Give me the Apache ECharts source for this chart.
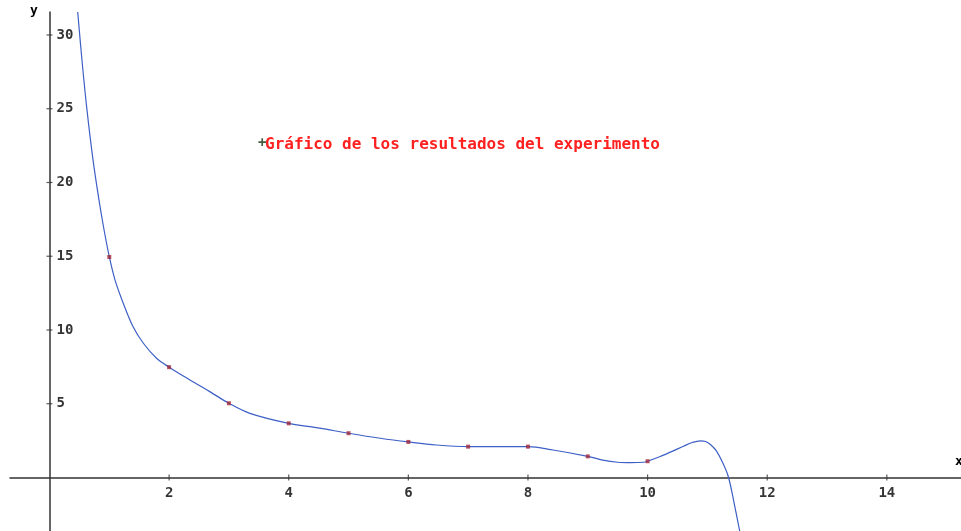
<!DOCTYPE html>
<html>
<head>
<meta charset="utf-8">
<script src="https://cdn.jsdelivr.net/npm/echarts@6/dist/echarts.min.js"></script>
<style>html,body{margin:0;padding:0;background:#fff;}#c{width:961px;height:531px;}</style>
</head>
<body>
<div id="c"></div>
<script>
// measured data points
const pointX = [1, 2, 3, 4, 5, 6, 7, 8, 9, 10];
const pointY = [14.95, 7.48, 5.03, 3.67, 3.0, 2.41, 2.09, 2.09, 1.43, 1.1];
// fitted curve
const curveX = [0.472, 0.543, 0.627, 0.728, 0.828, 0.913, 1.0, 1.095, 1.235, 1.40, 1.57, 1.79, 2.0, 2.35, 2.68, 3.0, 3.35, 4.0, 4.52, 5.0, 5.53, 6.0, 6.47, 7.0, 7.53, 8.0, 8.42, 9.0, 9.25, 9.5, 9.72, 9.93, 10.0, 10.2, 10.43, 10.6, 10.75, 10.88, 10.97, 11.06, 11.15, 11.25, 11.35, 11.45, 11.54];
const curveY = [31.56, 28.31, 24.92, 21.53, 18.81, 16.78, 14.97, 13.4, 11.8, 10.2, 9.1, 8.08, 7.48, 6.61, 5.82, 5.03, 4.35, 3.67, 3.34, 3.0, 2.66, 2.41, 2.2, 2.09, 2.09, 2.09, 1.86, 1.43, 1.18, 1.03, 1.0, 1.03, 1.1, 1.4, 1.8, 2.12, 2.37, 2.48, 2.44, 2.2, 1.8, 1.05, 0.05, -1.8, -3.63];
const xTicks = [2, 4, 6, 8, 10, 12, 14];
const yTicks = [5, 10, 15, 20, 25, 30];
const titleText = 'Gráfico de los resultados del experimento';

const X_MIN = -0.66, X_MAX = 15.24, Y_MIN = -3.63, Y_MAX = 31.56;
const axisColor = '#333';
const labelFont = { fontFamily: 'DejaVu Sans Mono', fontWeight: 'bold', fontSize: 14, color: '#000' };

const chart = echarts.init(document.getElementById('c'));
chart.setOption({
  animation: false,
  backgroundColor: '#fff',
  grid: { left: 10, right: 0, top: 12, bottom: 0, containLabel: false, outerBoundsMode: 'none' },
  xAxis: {
    type: 'value', min: X_MIN, max: X_MAX,
    axisLine: { show: true, onZero: true, lineStyle: { color: axisColor, width: 1.5 } },
    axisTick: { show: false }, axisLabel: { show: false }, splitLine: { show: false }
  },
  yAxis: {
    type: 'value', min: Y_MIN, max: Y_MAX,
    axisLine: { show: true, onZero: true, lineStyle: { color: axisColor, width: 1.5 } },
    axisTick: { show: false }, axisLabel: { show: false }, splitLine: { show: false }
  },
  series: [
    {
      // ticks + labels on the x axis
      type: 'scatter', data: xTicks.map(v => [v, 0]), symbol: 'rect', symbolSize: [1.2, 6],
      itemStyle: { color: axisColor }, silent: true, z: 1,
      label: Object.assign({ show: true, position: 'bottom', distance: 6, formatter: p => String(p.value[0]) }, labelFont)
    },
    {
      // ticks + labels on the y axis
      type: 'scatter', data: yTicks.map(v => [0, v]), symbol: 'rect', symbolSize: [6, 1.2],
      itemStyle: { color: axisColor }, silent: true, z: 1,
      label: Object.assign({ show: true, position: 'right', distance: 4, formatter: p => String(p.value[1]) }, labelFont)
    },
    {
      type: 'line', data: curveX.map((x, i) => [x, curveY[i]]),
      smooth: 0.35, showSymbol: false, clip: true,
      lineStyle: { color: '#3d5fc6', width: 1.2 }, z: 3
    },
    {
      type: 'scatter', data: pointX.map((x, i) => [x, pointY[i]]),
      symbol: 'rect', symbolSize: 4, itemStyle: { color: '#a0283a' }, z: 5
    }
  ],
  graphic: [
    { type: 'text', left: 265, top: 137, style: { text: titleText, fill: '#ff2020', font: 'bold 16px "DejaVu Sans Mono"' } },
    { type: 'text', left: 258, top: 136, style: { text: '+', fill: '#406040', font: 'bold 14px "DejaVu Sans Mono"' } },
    { type: 'text', left: 30, top: 4, style: { text: 'y', fill: '#000', font: 'bold 13px "DejaVu Sans Mono"' } },
    { type: 'text', left: 955, top: 455, style: { text: 'x', fill: '#000', font: 'bold 13px "DejaVu Sans Mono"' } }
  ]
});
</script>
</body>
</html>
